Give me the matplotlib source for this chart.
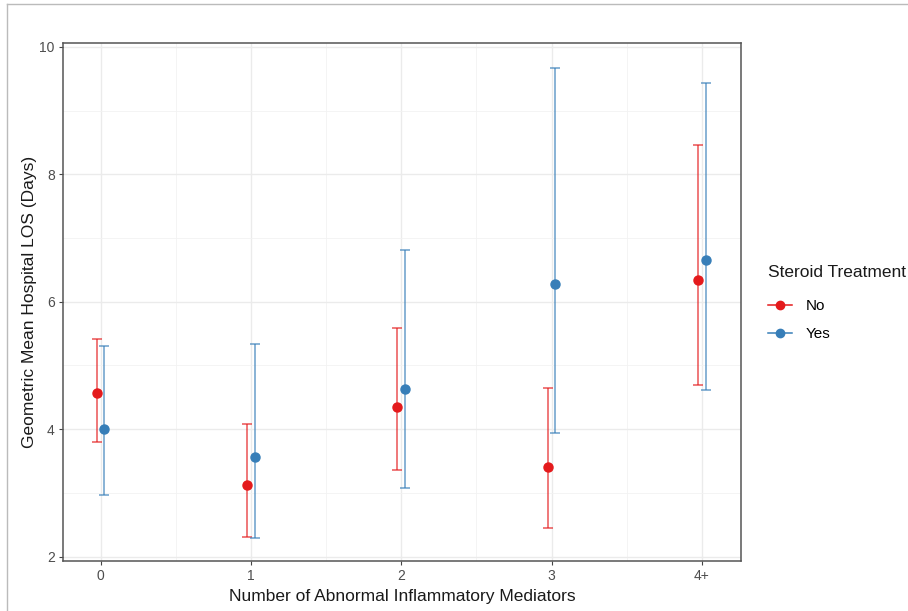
import matplotlib
matplotlib.use("Agg")
import matplotlib.pyplot as plt
import numpy as np
from matplotlib.lines import Line2D

categories = ["0", "1", "2", "3", "4+"]
no_mean = [4.56, 3.12, 4.35, 3.41, 6.34]
no_lower = [3.80, 2.31, 3.36, 2.45, 4.69]
no_upper = [5.41, 4.08, 5.58, 4.65, 8.46]
yes_mean = [4.00, 3.57, 4.63, 6.28, 6.65]
yes_lower = [2.97, 2.29, 3.07, 3.94, 4.62]
yes_upper = [5.31, 5.34, 6.81, 9.67, 9.44]
y_ticks = [2, 4, 6, 8, 10]

RED = "#E41A1C"
BLUE = "#377EB8"
plt.rcParams['font.family'] = ['Liberation Sans', 'DejaVu Sans']

fig = plt.figure(figsize=(9.08, 6.11), dpi=100)
ax = fig.add_axes([63/908, 1-561/611, (741-63)/908, (561-43)/611])

x = np.arange(len(categories))
dodge = 0.025
for means, lo, hi, col, off in [(no_mean, no_lower, no_upper, RED, -dodge),
                                 (yes_mean, yes_lower, yes_upper, BLUE, dodge)]:
    m = np.array(means); l = np.array(lo); h = np.array(hi)
    ax.errorbar(x + off, m, yerr=[m - l, h - m], fmt='none', ecolor=col,
                elinewidth=1.1, capsize=3.5, capthick=1.1, alpha=0.75, zorder=3)
    ax.plot(x + off, m, 'o', color=col, markersize=6.5, zorder=4)

ax.set_xlim(-0.25, 4.26)
ax.set_ylim(1.93, 10.06)
ax.set_xticks(x)
ax.set_xticklabels(categories)
ax.set_yticks(y_ticks)
ax.set_yticks([3, 5, 7, 9], minor=True)
ax.set_xticks(np.arange(0.5, 4.0, 1.0), minor=True)
ax.tick_params(axis='both', which='major', length=3, width=0.8, color='#444444',
               labelcolor='#4D4D4D', labelsize=10, pad=3)
ax.tick_params(axis='both', which='minor', length=0)
ax.grid(True, which='major', color='#EBEBEB', linewidth=1.0, zorder=0)
ax.grid(True, which='minor', color='#F2F2F2', linewidth=0.6, zorder=0)
ax.set_axisbelow(True)
for s in ax.spines.values():
    s.set_color('#555555')
    s.set_linewidth(1.1)

ax.set_xlabel("Number of Abnormal Inflammatory Mediators", fontsize=12.5,
              color='#1A1A1A', labelpad=4)
ax.set_ylabel("Geometric Mean Hospital LOS (Days)", fontsize=12.5,
              color='#1A1A1A', labelpad=2)

handles = [Line2D([0], [0], color=RED, marker='o', markersize=6, linewidth=1.1),
           Line2D([0], [0], color=BLUE, marker='o', markersize=6, linewidth=1.1)]
leg = fig.legend(handles, ["No", "Yes"], title="Steroid Treatment",
                 loc='upper left', bbox_to_anchor=(754/908, 1-251/611),
                 frameon=False, fontsize=11, title_fontsize=12.5,
                 handlelength=1.6, handletextpad=0.9, labelspacing=0.9,
                 alignment='left')
leg.get_title().set_color('#1A1A1A')
leg._legend_box.sep = 14

# outer frame lines (screenshot border)
fig.add_artist(Line2D([7/908, 1], [1-4/611, 1-4/611], color='#BBBBBB', linewidth=1.0))
fig.add_artist(Line2D([7/908, 7/908], [0, 1-4/611], color='#BBBBBB', linewidth=1.0))

fig.savefig("out.png", dpi=100)
